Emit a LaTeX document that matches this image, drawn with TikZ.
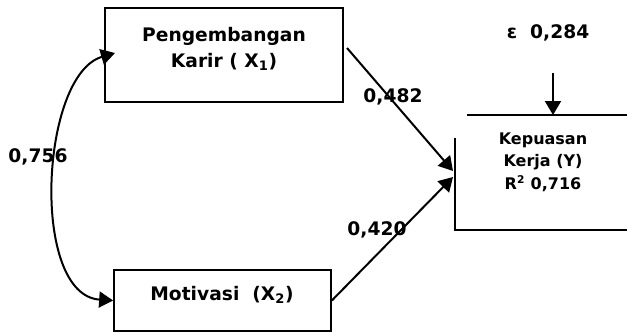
\documentclass[tikz,border=0pt]{standalone}
\usepackage{fontspec}
\setmainfont{DejaVu Sans}
\usetikzlibrary{arrows.meta}
\begin{document}
\begin{tikzpicture}[x=0.75pt,y=-0.75pt,
  box/.style={draw,line width=1.3pt,rectangle,inner sep=0pt},
  bigtxt/.style={font=\bfseries\fontsize{14}{20}\selectfont,align=center,inner sep=0pt},
  smalltxt/.style={font=\bfseries\fontsize{12}{17}\selectfont,align=center,inner sep=0pt},
  tip/.style={Triangle[length=10.5pt,width=12pt]},
  pathline/.style={line width=1.5pt,-{Triangle[length=10.5pt,width=12pt]}},
  openbox/.style={line width=1.1pt}]
\useasboundingbox (0,0) rectangle (627,332);

% exogenous variables
\node[box,minimum width=238*0.75pt,minimum height=94*0.75pt] (x1) at (224,55) {};
\node[bigtxt] (x1t) at (224,49) {Pengembangan\\Karir ( X\textsubscript{1})};
\node[box,minimum width=217*0.75pt,minimum height=61*0.75pt] (x2) at (222.5,300.5) {};
\node[bigtxt] (x2t) at (222,295) {Motivasi\ \ (X\textsubscript{2})};

% endogenous variable, drawn as an open frame
\coordinate (ytl) at (467,115);
\coordinate (ytr) at (627,115);
\coordinate (ylt) at (455,138);
\coordinate (ylb) at (455,230);
\coordinate (ybr) at (627,230);
\draw[openbox] (ytl) -- (ytr);
\draw[openbox] (ylt) -- (ylb) -- (ybr);
\node[smalltxt] (yt) at (543,162) {Kepuasan\\Kerja (Y)\\R\textsuperscript{2} 0,716};

% residual
\node[bigtxt] (eps) at (548,33) {ε\ \ 0,284};
\coordinate (epsa) at (553,73);
\coordinate (epsb) at (553,115);
\draw[pathline] (epsa) -- (epsb);

% paths
\coordinate (x1out) at (347,48);
\coordinate (yin1) at (453,171);
\coordinate (yin2) at (453,177);
\coordinate (x1in) at (115,53);
\draw[pathline] (x1out) -- (yin1);
\draw[pathline] (x2.east) -- (yin2);
\draw[line width=1.5pt,{Triangle[length=10.5pt,width=12pt]}-{Triangle[length=10.5pt,width=12pt]}]
  (x1in) .. controls (40,75) and (30,295) .. (x2.west);

% coefficients
\node[bigtxt] (c756) at (38,157) {0,756};
\node[bigtxt] (c482) at (393,97) {0,482};
\node[bigtxt] (c420) at (377,230) {0,420};
\end{tikzpicture}
\end{document}
